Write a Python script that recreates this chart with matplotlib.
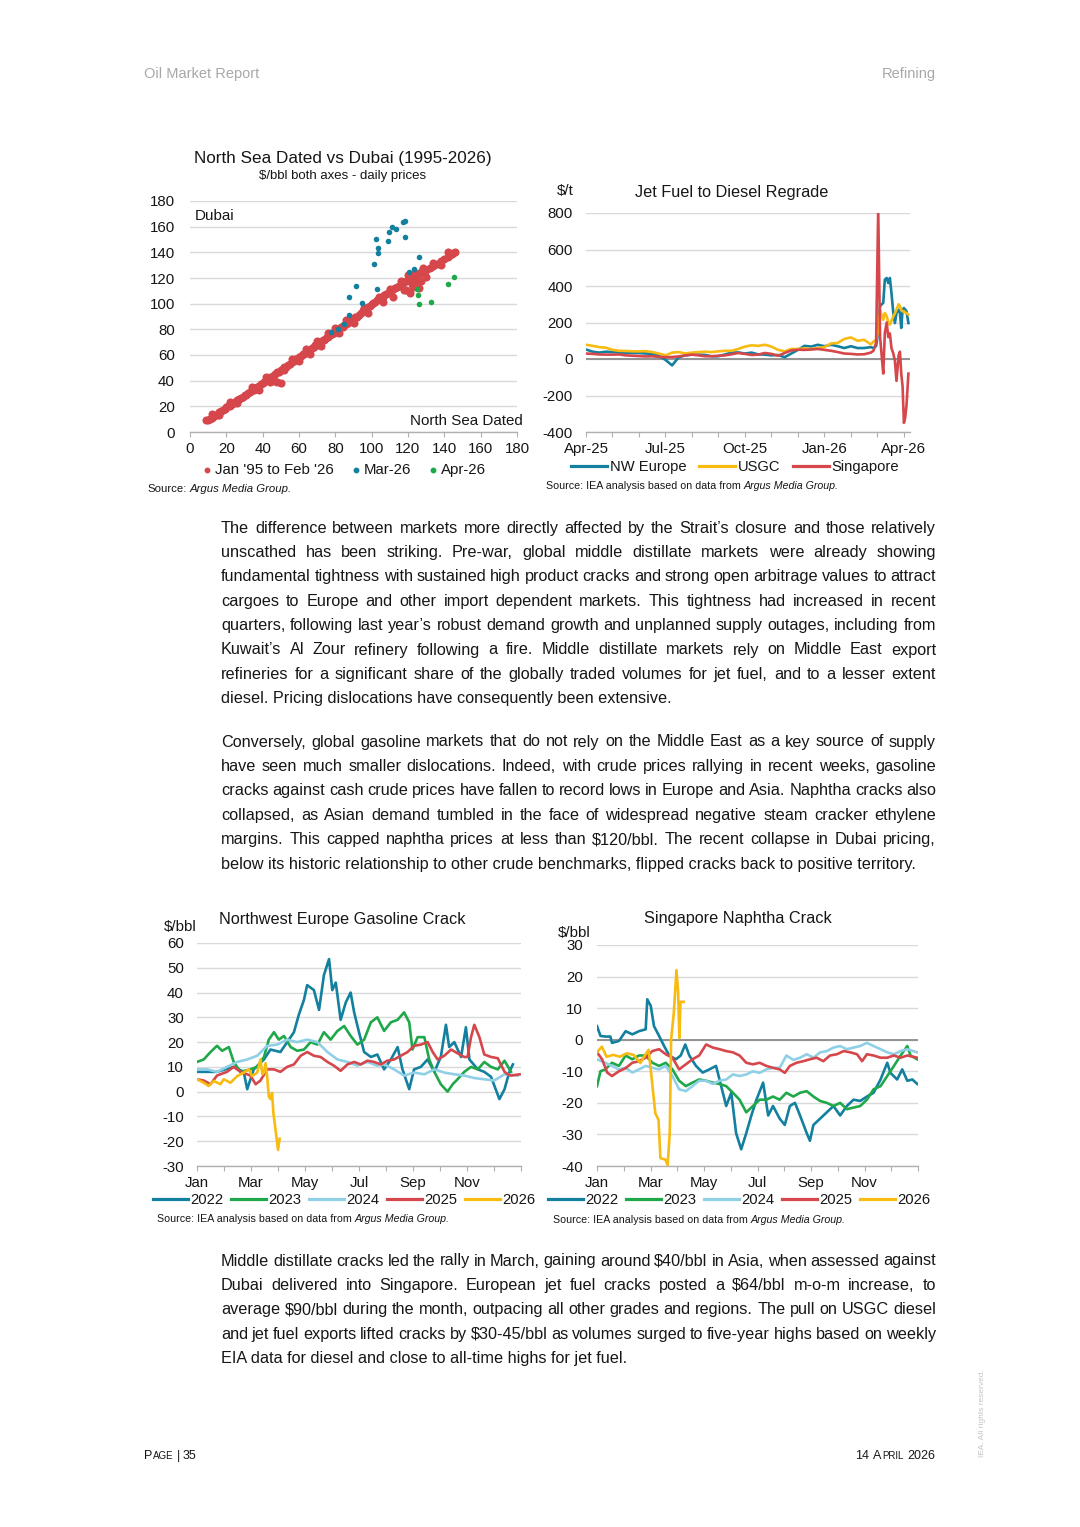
import matplotlib
matplotlib.use('Agg')
import matplotlib.pyplot as plt
from matplotlib.lines import Line2D

plt.rcParams['font.family'] = ['Liberation Sans', 'DejaVu Sans']
plt.rcParams['axes.unicode_minus'] = False

W, H = 1080, 1527

# ---------------- data ----------------
# North Sea Dated (x) vs Dubai (y), $/bbl
red_x = [9, 10, 11, 12, 13, 14, 15, 16, 17, 18, 19, 20, 21, 22, 23, 24, 25, 26, 27, 28, 29, 30,
         31, 32, 33, 34, 35, 36, 37, 38, 39, 40, 41, 42, 43, 44, 45, 46, 47, 48, 49, 50, 51, 52,
         53, 54, 55, 56, 57, 58, 59, 60, 61, 62, 63, 64, 65, 66, 67, 68, 69, 70, 71, 72, 73, 74,
         75, 76, 77, 78, 79, 80, 81, 82, 83, 84, 85, 86, 87, 88, 89, 90, 91, 92, 93, 94, 95, 96,
         97, 98, 99, 100, 101, 102, 103, 104, 105, 106, 107, 108, 109, 110, 111, 112, 113, 114,
         115, 116, 117, 118, 119, 120, 121, 122, 123, 124, 125, 126, 127, 128, 129, 130, 132, 134,
         136, 138, 140, 142, 143, 144, 145,
         12, 16, 22, 26, 34, 38, 42, 44, 46, 48, 50, 52, 56, 60, 64, 66, 70, 72, 76, 80, 82, 86,
         90, 96, 98, 104, 106, 110, 112, 116, 118, 120, 122, 124, 126, 128, 130, 134, 138, 142,
         146, 127, 125, 121, 123, 119]
red_y = [9.5, 9, 10.5, 11, 12.5, 13, 13.5, 15.5, 16, 17.5, 18, 19.5, 20, 20.5, 22, 22.5, 23.5, 25,
         25.5, 26.5, 27.5, 28.5, 29, 30.5, 31, 32.5, 33, 34.5, 35, 36, 37.5, 38, 39, 40.5, 41, 42.5,
         43, 44.5, 45, 46.5, 47, 48.5, 49, 50.5, 51, 52.5, 53, 54.5, 55, 56.5, 57, 58.5, 59, 60.5,
         61, 62.5, 63, 64, 65.5, 66, 67.5, 68, 69.5, 70, 71.5, 72, 73.5, 74, 75.5, 76, 77.5, 78,
         79.5, 80, 81.5, 82, 83, 84.5, 85, 86.5, 87, 88, 89.5, 90, 91, 92.5, 94.5, 95.5, 97, 97.5,
         98.5, 100, 100.5, 101.5, 103, 103.5, 104.5, 105.5, 106.5, 107.5, 108.5, 109.5, 110.5,
         111.5, 112.5, 113, 114, 114.5, 116, 116.5, 117.5, 118.5, 119.5, 120.5, 121, 121.5, 122.5,
         123.5, 124.5, 125.5, 126, 126.5, 128, 129.5, 131, 133, 134.5, 136.5, 138, 139, 139.5,
         14, 13, 23, 22.5, 35, 33, 43, 39, 40, 39, 38.5, 48, 57, 55, 65, 61, 71, 67, 77, 81, 77, 87,
         85, 97, 93, 105.5, 101, 111.5, 105, 117.5, 111, 122, 115, 124, 112, 128, 121, 132, 130,
         140, 140, 118, 116, 108, 113, 110.5]
mar_x = [77.6, 81.3, 84.6, 87.7, 87.7, 91.6, 94.5, 101.1, 102.6, 102.9, 103.7, 103.7, 109, 109.7,
         111, 113.4, 117, 118.2, 118.5, 120.7, 123.1, 126]
mar_y = [77.9, 80, 83.9, 91.2, 105, 113.8, 100.8, 130.6, 150.6, 111.7, 143.6, 139.7, 149, 156,
         160, 158.4, 163.6, 164.4, 151.9, 124.9, 126.8, 136.1]
apr_x = [125, 125.3, 126.2, 132.8, 142.2, 145.1]
apr_y = [111.2, 107, 100, 101.6, 115.3, 120.5]

# Jet fuel to diesel regrade, $/t (x = months since Apr-25)
jet_x = [0, 0.25, 0.5, 0.75, 1, 1.25, 1.5, 1.75, 2, 2.25, 2.5, 2.75, 3, 3.25, 3.5, 3.75, 4, 4.25,
         4.5, 4.75, 5, 5.25, 5.5, 5.75, 6, 6.25, 6.5, 6.75, 7, 7.25, 7.5, 7.75, 8, 8.25, 8.5, 8.75,
         9, 9.25, 9.5, 9.75, 10, 10.25, 10.5, 10.75,
         10.85, 10.95, 11.03, 11.1, 11.16, 11.22, 11.28, 11.35, 11.41, 11.47, 11.53, 11.6, 11.66,
         11.72, 11.8, 11.85, 11.9, 11.95, 12.0, 12.05, 12.1, 12.17]
jet_nwe = [52, 40, 35, 40, 38, 35, 35, 33, 33, 30, 28, 18, -5, -35, 10, 20, 24, 24, 22, 15, 15,
           25, 35, 36, 30, 35, 25, 24, 20, 22, 10, 30, 50, 72, 68, 78, 70, 78, 70, 60, 70, 60, 60,
           65,
           60, 70, 150, 289, 300, 307, 435, 444, 416, 444, 362, 252, 197, 252, 270, 252, 170, 270,
           279, 270, 261, 197]
jet_usgc = [78, 72, 65, 62, 50, 45, 44, 42, 42, 43, 38, 30, 20, 35, 38, 30, 35, 38, 40, 38, 42,
            45, 45, 55, 68, 75, 72, 78, 68, 50, 42, 55, 55, 58, 55, 60, 65, 85, 88, 110, 118, 100,
            105, 80,
            95, 105, 150, 270, 240, 215, 252, 234, 200, 188, 210, 234, 250, 270, 300, 290, 270,
            261, 262, 255, 252, 243]
jet_sing = [30, 28, 25, 24, 24, 25, 20, 18, 16, 14, 15, 12, 10, 11, 14, 20, 24, 20, 15, 15, 18,
            20, 26, 33, 28, 22, 24, 33, 28, 18, 33, 47, 51, 50, 52, 55, 50, 45, 38, 30, 28, 25,
            26, 35,
            45, 88, 818, 120, 20, -80, 142, 200, 120, 140, 60, 30, -10, -120, 20, 40, -80, -150,
            -350, -320, -250, -80]
jet_ticks = ['Apr-25', 'Jul-25', 'Oct-25', 'Jan-26', 'Apr-26']

# Northwest Europe gasoline crack, $/bbl (x = months from 1 Jan)
gas22_x = [0, 0.74, 1.36, 1.73, 1.86, 2.10, 2.48, 2.72, 3.09, 3.34, 3.59, 3.77, 3.96, 4.08, 4.33,
           4.52, 4.70, 4.89, 5.01, 5.14, 5.32, 5.51, 5.69, 5.82, 6.00, 6.19, 6.44, 6.68, 6.93,
           7.18, 7.43, 7.61, 7.86, 8.04, 8.29, 8.54, 8.79, 9.03, 9.22, 9.34, 9.53, 9.78, 9.96,
           10.09, 10.40, 10.64, 10.89, 11.20, 11.39, 11.57, 11.70]
gas22_y = [8, 8, 10, 8, 1, 9, 13, 17, 16, 20, 24, 31, 37, 43, 41, 33, 47, 53.5, 41, 44, 29, 36,
           40, 32, 24, 16, 14, 15, 9, 13, 18, 9, 1, 9, 10, 13, 8, 14, 27, 18, 20, 14, 26, 13, 9,
           8, 6, -3, 1, 8, 11]
gas23_x = [0, 0.25, 0.5, 0.74, 0.93, 1.18, 1.36, 1.61, 1.98, 2.23, 2.48, 2.66, 2.85, 3.03, 3.22,
           3.47, 3.71, 3.96, 4.21, 4.46, 4.70, 4.95, 5.20, 5.45, 5.69, 5.94, 6.19, 6.44, 6.68,
           6.93, 7.18, 7.43, 7.67, 7.86, 7.98, 8.17, 8.42, 8.60, 8.79, 9.03, 9.28, 9.47, 9.65,
           9.90, 10.15, 10.40, 10.64, 10.89, 11.14, 11.39, 11.63]
gas23_y = [12, 13, 16, 18.5, 16.5, 18, 12, 8, 9, 10, 14, 21, 24, 21, 22.5, 18, 16.5, 17, 20, 19,
           24, 21, 24.5, 26.5, 22.5, 19, 21, 28, 30, 24.5, 28, 29, 32, 28, 17, 22, 22, 13, 8, 3,
           0, 3, 5, 8, 10, 9, 12, 10, 9, 12.5, 8]
gas24_x = [0, 0.37, 0.74, 1.11, 1.49, 1.86, 2.23, 2.60, 2.97, 3.34, 3.71, 4.08, 4.46, 4.83, 5.20,
           5.57, 5.94, 6.31, 6.68, 6.93, 7.30, 7.67, 8.04, 8.42, 8.79, 9.16, 9.53, 9.90, 10.27,
           10.64, 11.01, 11.39, 11.88]
gas24_y = [9, 9, 8, 10, 12, 13, 14.5, 18.5, 19, 21, 20, 21, 20, 16, 13, 12, 10.5, 12, 10.5, 11,
           9, 6.5, 7.7, 7, 9, 7.7, 7, 6.5, 5.5, 5, 4.5, 7, 6.5]
gas25_x = [0, 0.25, 0.5, 0.74, 1.11, 1.36, 1.61, 1.86, 1.98, 2.17, 2.35, 2.60, 2.85, 3.09, 3.34,
           3.59, 3.84, 4.08, 4.33, 4.58, 4.83, 5.07, 5.32, 5.57, 5.82, 6.06, 6.31, 6.56, 6.81,
           7.05, 7.30, 7.55, 7.80, 8.04, 8.29, 8.54, 8.73, 8.91, 9.16, 9.41, 9.65, 9.90, 10.02,
           10.15, 10.27, 10.46, 10.64, 10.89, 11.14, 11.39, 11.51, 11.63, 11.95]
gas25_y = [5, 4.5, 3, 6.5, 8, 10, 8, 7, 6.5, 3, 4.5, 9, 9, 8, 10, 11, 14.5, 16, 14.5, 14, 12,
           10.5, 8.4, 11, 12, 11, 12.5, 12, 11, 12.5, 13, 14.5, 16, 18.5, 19, 20, 16, 13, 14.5,
           17, 15.5, 14, 14, 22, 27, 22, 15, 14, 13.5, 8, 7, 6.5, 7]
gas26_x = [0, 0.25, 0.43, 0.62, 0.87, 0.99, 1.24, 1.49, 1.73, 1.92, 2.04, 2.23, 2.35, 2.42, 2.48,
           2.54, 2.60, 2.66, 2.72, 2.78, 2.83, 2.91, 3.0, 3.06]
gas26_y = [5, 3.6, 2.3, 4.3, 3, 5, 3.6, 6.3, 7.7, 9, 6.3, 7.7, 13, 7, 7.7, 11.5, 6, -2, -3, -0.5,
           -8.7, -15.5, -23.5, -19]

# Singapore naphtha crack, $/bbl (x = months from 1 Jan)
nap22_x = [0, 0.13, 0.31, 0.50, 0.56, 0.82, 1.07, 1.32, 1.57, 1.82, 1.88, 2.01, 2.13, 2.32, 2.51,
           2.70, 2.95, 3.13, 3.30, 3.45, 3.70, 3.95, 4.20, 4.45, 4.58, 4.83, 5.02, 5.20, 5.39,
           5.58, 5.77, 5.96, 6.21, 6.40, 6.58, 6.83, 7.02, 7.21, 7.40, 7.59, 7.84, 7.96, 8.09,
           8.34, 8.59, 8.84, 9.09, 9.34, 9.59, 9.84, 10.09, 10.34, 10.60, 10.85, 10.97, 11.22,
           11.41, 11.60, 11.79, 11.97]
nap22_y = [4.3, 1.2, 1, 1, -1, -0.4, 2.7, 1.7, 2.7, 3.3, 12.8, 10.7, 4.3, 1.2, -2, -5, -6.2, -5,
           -1.5, -5, -8.3, -10.4, -9.4, -8.3, -12.6, -21, -16.8, -29.6, -34.7, -29.6, -24, -19,
           -13.6, -24, -21, -25, -27, -21, -20, -24, -29.6, -32, -27, -25, -23, -21, -24, -21,
           -19, -19.4, -18, -16.8, -12.6, -7.3, -10.5, -12.6, -9.4, -13, -12.6, -14]
nap23_x = [0, 0.13, 0.31, 0.56, 0.82, 1.07, 1.32, 1.57, 1.82, 2.07, 2.32, 2.57, 2.82, 3.07, 3.32,
           3.57, 3.82, 4.08, 4.33, 4.58, 4.83, 5.08, 5.33, 5.58, 5.83, 6.08, 6.33, 6.58, 6.83,
           7.08, 7.34, 7.59, 7.84, 8.09, 8.34, 8.59, 8.84, 9.09, 9.34, 9.59, 9.84, 10.09, 10.34,
           10.60, 10.85, 11.10, 11.35, 11.60, 11.72, 11.97]
nap23_y = [-14.7, -10, -9.4, -7.3, -8.3, -5, -6.2, -5, -5, -7.3, -8.3, -7.3, -9.4, -13, -14.7,
           -13.6, -12.6, -13, -13.6, -14, -14.7, -16.8, -19, -23, -21, -19, -19, -18, -19, -16.8,
           -18, -16.8, -16.3, -18, -19.4, -20, -21, -20, -22, -21.5, -21, -19, -15.7, -14.7,
           -11.5, -8.3, -5, -2, -5, -6.2]
nap24_x = [0, 0.31, 0.56, 0.82, 1.07, 1.32, 1.57, 1.82, 2.07, 2.32, 2.57, 2.82, 3.07, 3.32, 3.57,
           3.82, 4.08, 4.33, 4.58, 4.83, 5.08, 5.33, 5.58, 5.83, 6.08, 6.33, 6.58, 6.83, 7.08,
           7.34, 7.59, 7.84, 8.09, 8.34, 8.59, 8.84, 9.09, 9.34, 9.59, 9.84, 10.09, 10.34, 10.60,
           10.85, 11.10, 11.35, 11.60, 11.97]
nap24_y = [-6.2, -7.3, -8.3, -9.4, -8.9, -10.4, -9.4, -8.3, -8.9, -9.4, -8.3, -11.5, -15.7,
           -16.3, -14.7, -13, -13, -14, -13, -12.6, -11, -11.5, -11, -10, -10.5, -9.4, -8.9,
           -8.9, -5, -6.4, -5.7, -4.6, -5.7, -4, -3.6, -2.5, -2, -3, -2.5, -2, -1, -2, -3, -4,
           -4.6, -3.6, -3, -4]
nap25_x = [0, 0.19, 0.38, 0.56, 0.82, 1.07, 1.32, 1.57, 1.82, 2.07, 2.32, 2.57, 2.82, 3.07, 3.32,
           3.57, 3.82, 4.08, 4.33, 4.58, 4.83, 5.08, 5.33, 5.58, 5.83, 6.08, 6.33, 6.58, 6.83,
           7.02, 7.21, 7.46, 7.71, 7.96, 8.21, 8.46, 8.71, 8.97, 9.22, 9.47, 9.72, 9.91, 10.09,
           10.34, 10.60, 10.85, 11.10, 11.35, 11.60, 11.97]
nap25_y = [-4, -6.2, -10.4, -11.5, -10, -9, -7.3, -6.8, -5.7, -3.6, -3, -4.6, -5.7, -9.4, -7.8,
           -6.2, -5, -1.5, -2.5, -3, -3.6, -4, -5, -7.3, -7.8, -7.3, -8.3, -8.9, -9.4, -10.5,
           -8.3, -7.3, -6.8, -6.2, -5.7, -6.8, -5, -4.6, -3.6, -4, -4.6, -6.8, -4.6, -5, -5.7,
           -5.7, -5, -5.7, -5, -5.7]
nap26_x = [0, 0.18, 0.36, 0.61, 0.86, 1.11, 1.37, 1.62, 1.80, 1.93, 2.05, 2.18, 2.30, 2.37, 2.56,
           2.64, 2.72, 2.77, 2.87, 2.97, 3.03, 3.08, 3.12, 3.24]
nap26_y = [-4, -2.2, -5.4, -4.8, -5.4, -4.3, -4.8, -7.4, -4.8, -3.2, -12.7, -23.3, -25.4, -37.5,
           -38, -39.7, -29.6, 0, 8.4, 22, 15.6, 0.5, 12, 12]

years = ['2022', '2023', '2024', '2025', '2026']
month_ticks = ['Jan', '', 'Mar', '', 'May', '', 'Jul', '', 'Sep', '', 'Nov', '', '']

para1 = [
    "The difference between markets more directly affected by the Strait’s closure and those relatively",
    "unscathed has been striking. Pre-war, global middle distillate markets were already showing",
    "fundamental tightness with sustained high product cracks and strong open arbitrage values to attract",
    "cargoes to Europe and other import dependent markets. This tightness had increased in recent",
    "quarters, following last year’s robust demand growth and unplanned supply outages, including from",
    "Kuwait’s Al Zour refinery following a fire. Middle distillate markets rely on Middle East export",
    "refineries for a significant share of the globally traded volumes for jet fuel, and to a lesser extent",
    "diesel. Pricing dislocations have consequently been extensive.",
]
para2 = [
    "Conversely, global gasoline markets that do not rely on the Middle East as a key source of supply",
    "have seen much smaller dislocations. Indeed, with crude prices rallying in recent weeks, gasoline",
    "cracks against cash crude prices have fallen to record lows in Europe and Asia. Naphtha cracks also",
    "collapsed, as Asian demand tumbled in the face of widespread negative steam cracker ethylene",
    "margins. This capped naphtha prices at less than $120/bbl. The recent collapse in Dubai pricing,",
    "below its historic relationship to other crude benchmarks, flipped cracks back to positive territory.",
]
para3 = [
    "Middle distillate cracks led the rally in March, gaining around $40/bbl in Asia, when assessed against",
    "Dubai delivered into Singapore. European jet fuel cracks posted a $64/bbl m-o-m increase, to",
    "average $90/bbl during the month, outpacing all other grades and regions. The pull on USGC diesel",
    "and jet fuel exports lifted cracks by $30-45/bbl as volumes surged to five-year highs based on weekly",
    "EIA data for diesel and close to all-time highs for jet fuel.",
]

# ---------------- styling ----------------
INK = '#161616'
GREY_HDR = '#a8a8a8'
GRID = '#d9d9d9'
AXIS = '#b0b0b0'
ZERO = '#8c8c8c'
TEAL = '#12809e'
GREEN = '#1fa84a'
LBLUE = '#8fd0e6'
RED = '#d6474c'
YELLOW = '#f7bb12'
year_colors = [TEAL, GREEN, LBLUE, RED, YELLOW]

fig = plt.figure(figsize=(W / 100, H / 100), dpi=100)
fig.patch.set_facecolor('white')
renderer = fig.canvas.get_renderer()


def fx(x):
    return x / W


def fy(y):
    return 1 - y / H


def put(x, y, s, size, ha='left', va='center', color=INK, style='normal', **kw):
    if va == 'center':
        y += 1.3
    return fig.text(fx(x), fy(y), s, fontsize=size, ha=ha, va=va, color=color,
                    fontstyle=style, parse_math=False, **kw)


def width(s, size, style='normal'):
    t = fig.text(0, 0, s, fontsize=size, fontstyle=style, parse_math=False)
    w = t.get_window_extent(renderer).width
    t.remove()
    return w


def paragraph(lines, y0, dy=24.4, x0=221, x1=936, size=11.7):
    for i, line in enumerate(lines):
        y = y0 + i * dy + 5.5   # baseline
        if i == len(lines) - 1:
            put(x0, y, line, size, va='baseline')
            continue
        words = line.split(' ')
        ws = [width(w, size) for w in words]
        gap = (x1 - x0 - sum(ws)) / (len(words) - 1)
        x = x0
        for w, wd in zip(words, ws):
            put(x, y, w, size, va='baseline')
            x += wd + gap


def source(x, y, lead, size):
    put(x, y, lead, size)
    sp = width('a a', size) - width('aa', size)
    put(x + width(lead, size) + sp, y, 'Argus Media Group.', size, style='italic')


def line_legend(x, y, labels, colors, item_gap, seg=35, size=10.6):
    for lab, c in zip(labels, colors):
        fig.add_artist(Line2D([fx(x), fx(x + seg)], [fy(y), fy(y)], color=c, lw=2.3,
                              transform=fig.transFigure))
        x += seg + 2.5
        put(x, y, lab, size)
        x += width(lab, size) + item_gap


def seq(x, y, parts, ha='left', color=INK):
    # parts: (text, size, gap after in px)
    if ha == 'right':
        x -= sum(width(s, sz) + g for s, sz, g in parts)
    for s, sz, g in parts:
        put(x, y, s, sz, va='baseline', color=color)
        x += width(s, sz) + g


def make_ax(l, t, r, b, ypad):
    ax = fig.add_axes([l / W, 1 - b / H, (r - l) / W, (b - t) / H])
    ax.set_facecolor('none')
    for s in ('top', 'right', 'left'):
        ax.spines[s].set_visible(False)
    ax.spines['bottom'].set_color(AXIS)
    ax.spines['bottom'].set_linewidth(1.0)
    ax.tick_params(axis='y', length=0, pad=ypad, labelsize=10.8, labelcolor=INK)
    ax.tick_params(axis='x', length=3.5, width=0.8, color=AXIS, pad=4, labelsize=10.8,
                   labelcolor=INK)
    ax.grid(axis='y', color=GRID, lw=1.0)
    ax.set_axisbelow(True)
    return ax


# ---------------- page header / footer ----------------
put(144, 73, 'Oil Market Report', 10.5, color=GREY_HDR)
put(936, 73, 'Refining', 10.5, ha='right', color=GREY_HDR)

# ---------------- chart 1: scatter ----------------
put(343, 157, 'North Sea Dated vs Dubai (1995-2026)', 12.3, ha='center')
put(343, 175, '$/bbl both axes - daily prices', 9.5, ha='center')
ax1 = make_ax(190, 201, 517, 432, 10.8)
ax1.scatter(red_x, red_y, s=34, color=RED, linewidths=0, zorder=3)
ax1.scatter(mar_x, mar_y, s=16, color=TEAL, linewidths=0, zorder=4)
ax1.scatter(apr_x, apr_y, s=16, color=GREEN, linewidths=0, zorder=4)
ax1.set_xlim(0, 180)
ax1.set_ylim(0, 180)
ax1.set_xticks(range(0, 181, 20))
ax1.set_yticks(range(0, 181, 20))
put(195, 215, 'Dubai', 10.9)
put(523, 420, 'North Sea Dated', 10.9, ha='right')
for xm, c, lab in [(207, RED, "Jan '95 to Feb '26"), (356, TEAL, 'Mar-26'), (433, GREEN, 'Apr-26')]:
    fig.add_artist(Line2D([fx(xm)], [fy(470)], marker='o', ms=3.2, color=c, lw=0,
                          transform=fig.transFigure))
    put(xm + 8, 469, lab, 10.8)
source(147, 488, 'Source:', 8.2)

# ---------------- chart 2: jet/diesel regrade ----------------
put(557, 190, '$/t', 10.9)
put(732, 191, 'Jet Fuel to Diesel Regrade', 11.7, ha='center')
ax2 = make_ax(586, 213, 910, 432, 9.4)
ax2.axhline(0, color=ZERO, lw=1.3, zorder=1)
ax2.plot(jet_x, jet_nwe, color=TEAL, lw=1.9, zorder=3)
ax2.plot(jet_x, jet_usgc, color=YELLOW, lw=1.9, zorder=3)
ax2.plot(jet_x, jet_sing, color=RED, lw=1.9, zorder=4)
ax2.set_xlim(0, 12.23)
ax2.set_ylim(-400, 800)
ax2.set_yticks(range(-400, 801, 200))
ax2.set_xticks(range(0, 13))
ax2.set_xticklabels([jet_ticks[i // 3] if i % 3 == 0 else '' for i in range(13)])
line_legend(571, 466, ['NW Europe', 'USGC', 'Singapore'], [TEAL, YELLOW, RED], 13, seg=36)
source(546, 485, 'Source: IEA analysis based on data from', 7.7)

# ---------------- body text ----------------
paragraph(para1, 527)
paragraph(para2, 741)

# ---------------- chart 3: gasoline crack ----------------
put(164, 926, '$/bbl', 10.9)
put(342, 918, 'Northwest Europe Gasoline Crack', 11.7, ha='center')
ax3 = make_ax(197, 943, 521, 1166, 9.4)
for xs, ys, c in zip([gas22_x, gas23_x, gas24_x, gas25_x, gas26_x],
                     [gas22_y, gas23_y, gas24_y, gas25_y, gas26_y], year_colors):
    ax3.plot(xs, ys, color=c, lw=1.9, zorder=3)
ax3.set_xlim(0, 12)
ax3.set_ylim(-30, 60)
ax3.set_yticks(range(-30, 61, 10))
ax3.set_xticks(range(0, 13))
ax3.set_xticklabels(month_ticks)
line_legend(153, 1199, years, year_colors, 7.5)
source(157, 1218, 'Source: IEA analysis based on data from', 7.7)

# ---------------- chart 4: naphtha crack ----------------
put(558, 932, '$/bbl', 10.9)
put(738, 917, 'Singapore Naphtha Crack', 11.7, ha='center')
ax4 = make_ax(597, 945, 918, 1166, 10)
ax4.axhline(0, color=ZERO, lw=1.3, zorder=1)
for xs, ys, c in zip([nap22_x, nap23_x, nap24_x, nap25_x, nap26_x],
                     [nap22_y, nap23_y, nap24_y, nap25_y, nap26_y], year_colors):
    ax4.plot(xs, ys, color=c, lw=1.9, zorder=3)
ax4.set_xlim(0, 12)
ax4.set_ylim(-40, 30)
ax4.set_yticks(range(-40, 31, 10))
ax4.set_xticks(range(0, 13))
ax4.set_xticklabels(month_ticks)
line_legend(548, 1199, years, year_colors, 7.5)
source(553, 1219, 'Source: IEA analysis based on data from', 7.7)

paragraph(para3, 1260)

# ---------------- footer ----------------
seq(144, 1459, [('P', 9, 0.8), ('AGE', 7, 3), ('|', 9, 3), ('35', 9, 0)])
seq(935, 1459, [('14', 9, 4), ('A', 9, 0.5), ('PRIL', 7, 3.5), ('2026', 9, 0)], ha='right')
put(982, 1412, 'IEA. All rights reserved.', 6, ha='center', rotation=90, color='#c4c4c4')

fig.savefig('out.png', dpi=100, facecolor='white')
